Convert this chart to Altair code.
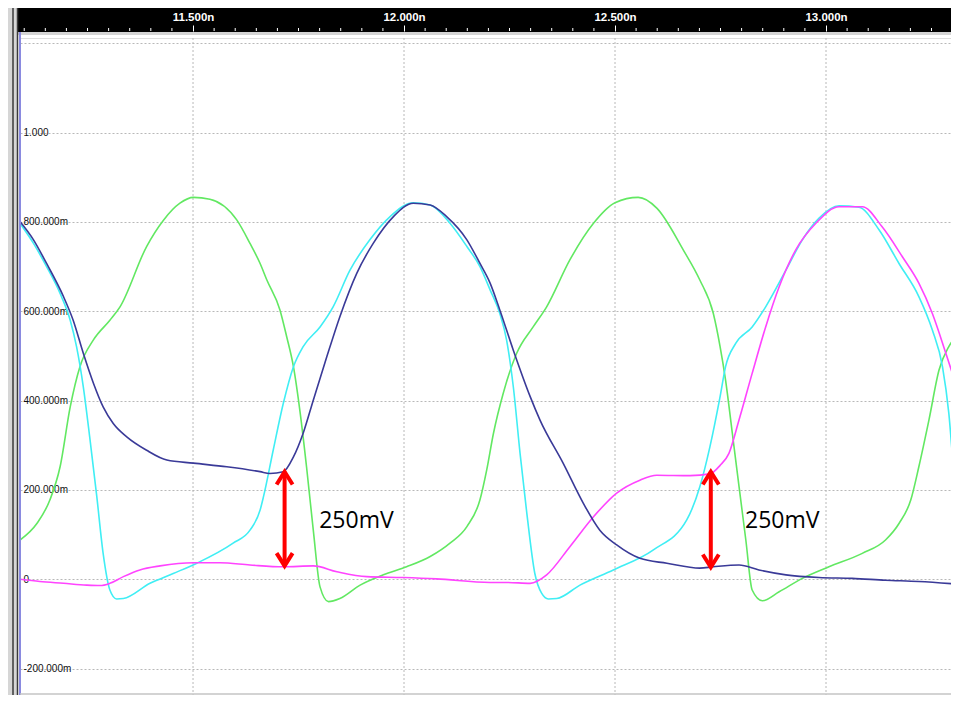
import altair as alt
import pandas as pd

# ---- waveform data (time in ns, voltage in V) ----
t_green = [11.090, 11.130, 11.161, 11.185, 11.209, 11.232, 11.264, 11.303, 11.327, 11.390, 11.430, 11.469,
           11.501, 11.540, 11.604, 11.635, 11.659, 11.675, 11.706, 11.722, 11.738, 11.754, 11.769, 11.785,
           11.801, 11.821, 11.848, 11.896, 11.951, 12.006, 12.062, 12.109, 12.149, 12.180, 12.196, 12.212,
           12.235, 12.267, 12.306, 12.338, 12.393, 12.449, 12.500, 12.555, 12.599, 12.662, 12.701, 12.733,
           12.749, 12.762, 12.778, 12.794, 12.810, 12.825, 12.849, 12.889, 12.944, 13.007, 13.086, 13.141,
           13.173, 13.201, 13.220, 13.244, 13.268, 13.291, 13.315]
v_green = [0.088, 0.125, 0.178, 0.252, 0.386, 0.476, 0.536, 0.580, 0.610, 0.745, 0.804, 0.842,
           0.855, 0.851, 0.804, 0.752, 0.707, 0.670, 0.603, 0.543, 0.476, 0.372, 0.252, 0.110,
           -0.017, -0.050, -0.043, -0.013, 0.010, 0.028, 0.051, 0.081, 0.118, 0.178, 0.245, 0.327,
           0.416, 0.506, 0.565, 0.610, 0.715, 0.797, 0.843, 0.855, 0.831, 0.737, 0.670, 0.595,
           0.521, 0.446, 0.327, 0.207, 0.088, -0.024, -0.048, -0.028, 0.002, 0.028, 0.058, 0.088,
           0.125, 0.178, 0.252, 0.357, 0.469, 0.521, 0.551]

t_cyan = [11.090, 11.122, 11.153, 11.185, 11.209, 11.224, 11.240, 11.256, 11.272, 11.287, 11.303, 11.319,
          11.335, 11.398, 11.453, 11.509, 11.595, 11.635, 11.659, 11.667, 11.690, 11.714, 11.738, 11.761,
          11.801, 11.832, 11.872, 11.919, 11.967, 12.022, 12.062, 12.109, 12.149, 12.180, 12.204, 12.227,
          12.243, 12.259, 12.275, 12.291, 12.310, 12.326, 12.342, 12.362, 12.417, 12.496, 12.591, 12.670,
          12.701, 12.725, 12.749, 12.762, 12.786, 12.825, 12.857, 12.905, 12.944, 12.983, 13.031, 13.078,
          13.126, 13.173, 13.220, 13.252, 13.276, 13.291, 13.303, 13.315]
v_cyan = [0.797, 0.752, 0.700, 0.640, 0.580, 0.521, 0.431, 0.312, 0.185, 0.058, -0.024, -0.044,
          -0.043, -0.009, 0.013, 0.036, 0.081, 0.110, 0.155, 0.185, 0.289, 0.394, 0.476, 0.521,
          0.565, 0.610, 0.692, 0.760, 0.812, 0.843, 0.838, 0.797, 0.745, 0.700, 0.648, 0.595,
          0.536, 0.431, 0.282, 0.148, 0.013, -0.031, -0.044, -0.043, -0.013, 0.021, 0.066, 0.133,
          0.207, 0.297, 0.409, 0.476, 0.528, 0.565, 0.610, 0.692, 0.760, 0.808, 0.836, 0.833,
          0.782, 0.707, 0.633, 0.558, 0.476, 0.372, 0.237, 0.118]

t_navy = [11.090, 11.122, 11.153, 11.193, 11.216, 11.240, 11.264, 11.287, 11.311, 11.343, 11.390, 11.438,
          11.501, 11.580, 11.659, 11.682, 11.714, 11.738, 11.761, 11.785, 11.817, 11.848, 11.888, 11.927,
          11.975, 12.022, 12.062, 12.101, 12.149, 12.180, 12.204, 12.227, 12.259, 12.299, 12.322, 12.377,
          12.425, 12.464, 12.504, 12.559, 12.623, 12.701, 12.733, 12.794, 12.841, 12.905, 12.983, 13.062,
          13.141, 13.220, 13.315]
v_navy = [0.801, 0.760, 0.707, 0.633, 0.580, 0.506, 0.439, 0.386, 0.349, 0.319, 0.289, 0.267,
          0.260, 0.252, 0.241, 0.237, 0.241, 0.274, 0.327, 0.401, 0.498, 0.588, 0.685, 0.752,
          0.812, 0.842, 0.838, 0.812, 0.760, 0.707, 0.663, 0.603, 0.513, 0.409, 0.357, 0.260,
          0.170, 0.110, 0.077, 0.047, 0.036, 0.025, 0.028, 0.032, 0.021, 0.010, 0.004, 0.002,
          -0.002, -0.005, -0.011]

t_magenta = [11.090, 11.137, 11.193, 11.248, 11.280, 11.303, 11.335, 11.374, 11.422, 11.501, 11.564, 11.635,
             11.714, 11.785, 11.841, 11.912, 11.998, 12.077, 12.204, 12.243, 12.299, 12.338, 12.393, 12.449,
             12.504, 12.559, 12.599, 12.678, 12.725, 12.749, 12.770, 12.794, 12.825, 12.857, 12.889, 12.928,
             12.976, 13.031, 13.086, 13.133, 13.181, 13.220, 13.252, 13.284, 13.315]
v_magenta = [0.000, -0.005, -0.009, -0.013, -0.014, -0.009, 0.006, 0.021, 0.030, 0.037, 0.037, 0.032,
             0.028, 0.030, 0.017, 0.006, 0.004, 0.001, -0.007, -0.007, -0.009, 0.010, 0.073, 0.140,
             0.193, 0.222, 0.233, 0.232, 0.236, 0.255, 0.282, 0.357, 0.461, 0.565, 0.655, 0.737,
             0.797, 0.834, 0.834, 0.789, 0.722, 0.663, 0.595, 0.506, 0.416]

# annotation arrows (250 mV)
arrow_t = [11.717, 12.727]
arrow_top = [0.241, 0.241]
arrow_bottom = [0.030, 0.027]
label_t = [11.799, 12.808]
label_v = [0.115, 0.115]
label_text = ["250mV", "250mV"]

# axis ticks
x_major = [11.5, 12.0, 12.5, 13.0]
x_minor = [round(11.10 + 0.05 * i, 2) for i in range(44)]
x_minor = [v for v in x_minor if v not in x_major]
y_ticks = [-0.2, 0.0, 0.2, 0.4, 0.6, 0.8, 1.0, 1.2]

series_names = ["green", "cyan", "magenta", "navy"]
series_colors = ["#62e862", "#40eef4", "#ff44ff", "#3a3a98"]

frames = []
for name, ts, vs in [("green", t_green, v_green), ("cyan", t_cyan, v_cyan),
                     ("magenta", t_magenta, v_magenta), ("navy", t_navy, v_navy)]:
    frames.append(pd.DataFrame({"t": ts, "v": vs, "sig": name}))
wave = pd.concat(frames, ignore_index=True)

arrows = pd.DataFrame({"t": arrow_t, "top": arrow_top, "bottom": arrow_bottom})
labels = pd.DataFrame({"t": label_t, "v": label_v, "text": label_text})
minor = pd.DataFrame({"t": x_minor})
major = pd.DataFrame({"t": x_major})
one = pd.DataFrame({"a": [0]})

W, H = 931, 657
xs = alt.Scale(domain=[11.090, 13.2962], nice=False, zero=False)
ys = alt.Scale(domain=[-0.2590, 1.2118], nice=False, zero=False)

y_label_expr = ("datum.value > 1.1 ? '' : (datum.value == 0 ? '0' : "
                "((datum.value < 0 ? '-' : '') + (abs(datum.value) >= 0.999 ? "
                "format(abs(datum.value), '.3f') : format(abs(datum.value) * 1000, '.3f') + 'm')))")

x_axis = alt.Axis(
    orient="top", values=x_major, offset=7, domain=False, title=None, zindex=2,
    tickColor="white", tickSize=6, tickWidth=1,
    labelColor="white", labelFont="Liberation Sans", labelFontSize=11.5,
    labelFontWeight="bold", labelPadding=3, labelOverlap=False, labelFlush=False,
    labelExpr="format(datum.value, '.3f') + 'n'", grid=False)
y_axis = alt.Axis(
    orient="left", values=y_ticks, domain=False, ticks=False, title=None,
    labelAlign="left", labelBaseline="middle", labelPadding=-3,
    labelColor="#111111", labelFont="Liberation Sans", labelFontSize=10,
    labelOverlap=False, labelFlush=False, labelExpr=y_label_expr,
    grid=True, gridColor="#b8b8b8", gridDash=[2, 2], gridWidth=1)

# decorations: header bar, separator, left frame
header = alt.Chart(one).mark_rect(color="black").encode(
    x=alt.value(-12), x2=alt.value(W), y=alt.value(-30), y2=alt.value(-6))
sep = alt.Chart(one).mark_rect(color="#d4d4d4").encode(
    x=alt.value(-12), x2=alt.value(W), y=alt.value(-6), y2=alt.value(-3))
frame_bg = alt.Chart(one).mark_rect(color="#d6d6d6").encode(
    x=alt.value(-12), x2=alt.value(-2), y=alt.value(-30), y2=alt.value(H))
frame_l1 = alt.Chart(one).mark_rule(color="#3a3a3a", strokeWidth=1.5).encode(
    x=alt.value(-7), y=alt.value(-30), y2=alt.value(H))
frame_l2 = alt.Chart(one).mark_rule(color="#3a3a3a", strokeWidth=1.5).encode(
    x=alt.value(-2.5), y=alt.value(-30), y2=alt.value(H))
blue_edge = alt.Chart(one).mark_rule(color="#8a8ae0", strokeWidth=2).encode(
    x=alt.value(0), y=alt.value(-6), y2=alt.value(H))
bottom_edge = alt.Chart(one).mark_rule(color="#c4c4c4", strokeWidth=1.5).encode(
    x=alt.value(0), x2=alt.value(W), y=alt.value(H - 1))

vgrid = alt.Chart(major).mark_rule(color="#b8b8b8", strokeWidth=1, strokeDash=[2, 2]).encode(
    x=alt.X("t:Q", scale=xs, axis=x_axis))

minor_ticks = alt.Chart(minor).mark_rule(color="white", strokeWidth=1).encode(
    x=alt.X("t:Q", scale=xs, axis=x_axis), y=alt.value(-10), y2=alt.value(-7))

lines = alt.Chart(wave).mark_line(strokeWidth=1.6, clip=True, interpolate="monotone").encode(
    x=alt.X("t:Q", scale=xs, axis=x_axis),
    y=alt.Y("v:Q", scale=ys, axis=y_axis),
    color=alt.Color("sig:N", scale=alt.Scale(domain=series_names, range=series_colors), legend=None),
    order=alt.Order("t:Q"),
)

shafts = alt.Chart(arrows).mark_rule(color="#ff0000", strokeWidth=4).encode(
    x=alt.X("t:Q", scale=xs, axis=x_axis), y=alt.Y("top:Q", scale=ys, axis=y_axis), y2="bottom:Q")
head_top = alt.Chart(arrows).mark_point(
    shape="M-1,1.6L0,0L1,1.6", size=256, filled=False, stroke="#ff0000", strokeWidth=4, opacity=1
).encode(x=alt.X("t:Q", scale=xs, axis=x_axis), y=alt.Y("top:Q", scale=ys, axis=y_axis))
head_bot = alt.Chart(arrows).mark_point(
    shape="M-1,-1.6L0,0L1,-1.6", size=256, filled=False, stroke="#ff0000", strokeWidth=4, opacity=1
).encode(x=alt.X("t:Q", scale=xs, axis=x_axis), y=alt.Y("bottom:Q", scale=ys, axis=y_axis))

texts = alt.Chart(labels).mark_text(
    align="left", baseline="alphabetic", font="Open Sans", fontSize=23, color="black"
).encode(x=alt.X("t:Q", scale=xs, axis=x_axis), y=alt.Y("v:Q", scale=ys, axis=y_axis), text="text:N")

chart = alt.layer(
    header, sep, frame_bg, frame_l1, frame_l2, vgrid, lines, blue_edge, bottom_edge, minor_ticks,
    shafts, head_top, head_bot, texts
).properties(
    width=W, height=H,
    autosize=alt.AutoSizeParams(type="none"),
    padding={"left": 12, "top": 30, "right": 0, "bottom": 0},
).configure_view(stroke=None).configure(background="white")

chart.save("out.html", embed_options={"renderer": "svg", "actions": False})
